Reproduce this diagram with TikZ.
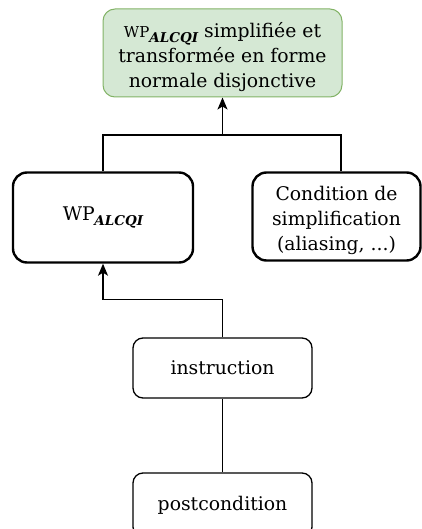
\documentclass[tikz,border=0pt]{standalone}
\usepackage{fontspec}
\setmainfont{DejaVu Serif}
\usetikzlibrary{arrows.meta}
\definecolor{goalfill}{HTML}{D5E8D4}
\definecolor{goalline}{HTML}{82B366}
\newcommand{\logicsub}{\raisebox{-5pt}{\fontsize{13.5}{13.5}\selectfont\bfseries\itshape ALCQI}}
\tikzset{
  base/.style={draw, align=center, inner sep=0pt,
    font=\fontsize{18.8}{25}\selectfont},
  boxtext/.style={align=center, inner sep=0pt, yshift=-4pt,
    font=\fontsize{18.8}{25}\selectfont},
  goalbox/.style={base, fill=goalfill, draw=goalline, line width=1pt,
    rounded corners=12pt},
  heavybox/.style={base, line width=2.4pt, rounded corners=14pt},
  lightbox/.style={base, line width=1.3pt, rounded corners=10pt},
  link/.style={line width=1.3pt},
  arr/.style={link, -{Stealth[length=12pt,width=10pt,inset=3pt]}}
}
\begin{document}
\begin{tikzpicture}[x=1pt,y=-1pt]
\useasboundingbox (0,0) rectangle (422,529);

\node[goalbox, minimum width=239pt, minimum height=88pt,
  label={[boxtext]center:{{\fontsize{15}{25}\selectfont WP}\logicsub{} simplifiée et\\transformée en forme\\normale disjonctive}}]
  (goal) at (222.5,53) {};
\node[heavybox, minimum width=180pt, minimum height=90pt] (wp) at (103,217.5)
  {WP\kern-0.5pt\logicsub};
\node[heavybox, minimum width=168pt, minimum height=88pt,
  label={[boxtext]center:{Condition de\\simplification\\(aliasing, ...)}}]
  (cond) at (336.5,216.5) {};
\node[lightbox, minimum width=179pt, minimum height=60pt] (instr) at (222.5,368)
  {instruction};
\node[lightbox, minimum width=179pt, minimum height=64pt] (post) at (222.5,505)
  {postcondition};

\coordinate (join) at (222.5,135);
\draw[link] (wp.north) |- (join) -| ([xshift=4.5pt]cond.north);
\draw[arr] (join) -- (goal.south);
\draw[arr] (instr.north) -- ++(0,-38) -| (wp.south);
\draw[link] (post.north) -- (instr.south);
\end{tikzpicture}
\end{document}
